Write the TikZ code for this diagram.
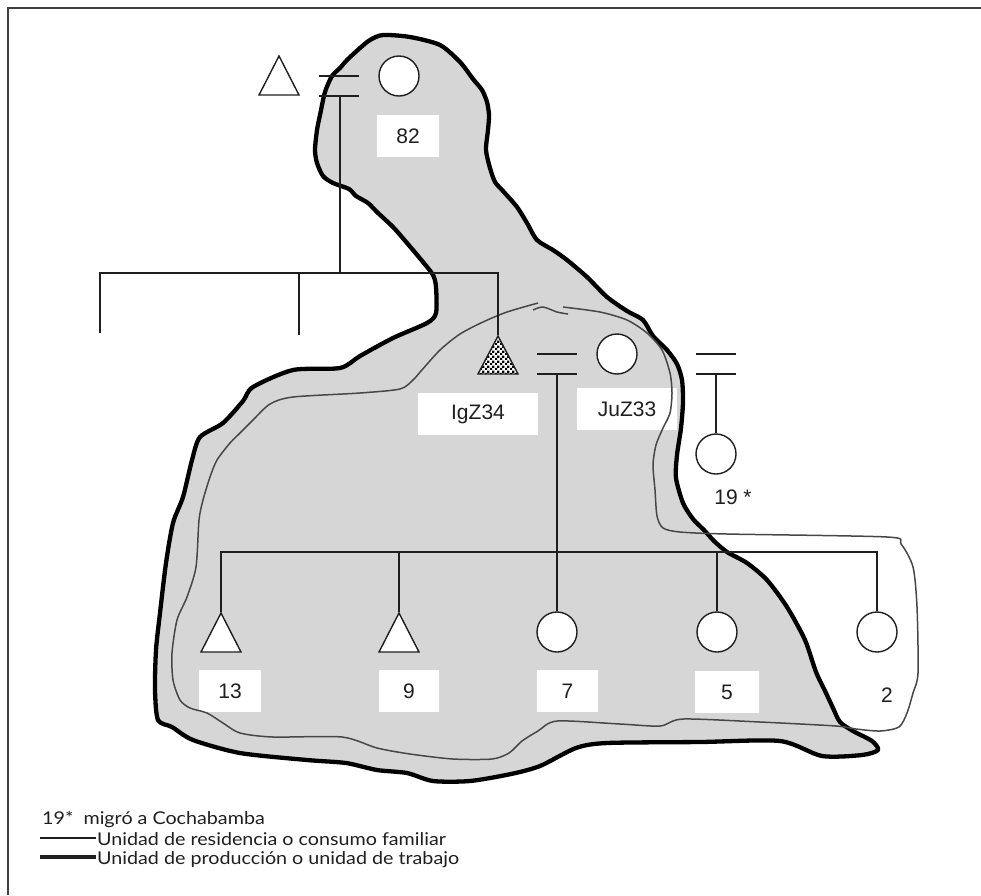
\documentclass[tikz,border=0pt]{standalone}
\usepackage{fontspec}
\setmainfont{Liberation Sans}
\newfontfamily\legendfont[FakeStretch=1.12]{Lato}
\usetikzlibrary{patterns}
\pgfdeclarepatternformonly{finecheck}{\pgfpointorigin}{\pgfpoint{5pt}{5pt}}{\pgfpoint{5pt}{5pt}}{%
  \pgfpathrectangle{\pgfpointorigin}{\pgfpoint{2.5pt}{2.5pt}}%
  \pgfpathrectangle{\pgfpoint{2.5pt}{2.5pt}}{\pgfpoint{2.5pt}{2.5pt}}%
  \pgfusepath{fill}}
\definecolor{shade}{gray}{0.84}
\definecolor{ink}{gray}{0.12}
\definecolor{thinink}{gray}{0.28}
\newcommand\tripath{([yshift=-1pt]path picture bounding box.north) -- ([xshift=1pt,yshift=1pt]path picture bounding box.south west) -- ([xshift=-1pt,yshift=1pt]path picture bounding box.south east) -- cycle}
\begin{document}
\begin{tikzpicture}[x=1pt,y=-1pt,
  pedline/.style={draw=ink, line width=1.4pt},
  thickline/.style={draw=black, line width=4.3pt, line join=round},
  thinline/.style={draw=thinink, line width=1.5pt, line join=round},
  person/.style={circle, draw=ink, line width=1.4pt, fill=white, minimum size=40pt, inner sep=0pt},
  tri/.style={minimum width=42pt, minimum height=41pt, inner sep=0pt,
    path picture={\draw[pedline, fill=white] \tripath;}},
  chktri/.style={minimum width=42pt, minimum height=40pt, inner sep=0pt,
    path picture={\fill[white] \tripath; \fill[pattern=finecheck, pattern color=black] \tripath; \draw[pedline] \tripath;}},
  labelbox/.style={fill=white, inner sep=0pt, text=ink, font=\fontsize{21}{24}\selectfont},
  plainlabel/.style={inner sep=0pt, text=ink, font=\fontsize{21}{24}\selectfont},
  legendtext/.style={inner sep=0pt, anchor=base west, text=ink, font=\legendfont\fontsize{17.6}{19}\selectfont}
]
\useasboundingbox (0,0) rectangle (981,895);
% frame
\draw[draw=ink!85, line width=2pt] (981,8) -- (8,8) -- (8,895);

% production unit (thick outline, grey fill)
\filldraw[thickline, fill=shade] plot[smooth cycle, tension=0.45] coordinates {
(383,35) (410,37) (440,45) (460,62) (473,79) (482,90) (487,102) (489,115) (488,130) (486,150) (490,168) (495,182) (503,191) (517,207) (527,223) (537,240) (553,250) (567,260) (587,277) (607,297) (627,311) (643,320) (653,336) (667,350) (677,364) (682,380) (683,402) (681,428) (677,455) (676,478) (683,503) (693,519) (704,530) (714,541) (727,552) (747,563) (767,580) (787,607) (805,640) (816,672) (826,693) (833,708) (840,722) (853,731) (872,741) (878,750) (862,755) (822,756) (780,741) (700,742) (607,743) (576,748) (540,766) (511,774) (470,781) (433,781) (407,773) (377,770) (346,763) (307,760) (240,753) (193,740) (172,727) (158,720) (155,690) (156,650) (160,613) (166,563) (173,523) (183,497) (192,460) (200,437) (223,423) (243,401) (253,387) (293,370) (340,368) (360,356) (393,338) (427,323) (436,313) (436,287) (433,275) (423,262) (407,243) (393,227) (378,213) (368,203) (356,196) (349,189) (333,183) (323,176) (317,163) (315,150) (317,130) (320,115) (325,92) (332,76) (340,68) (347,60) (360,48) (370,40)};

% label boxes
\node[labelbox, minimum width=62pt, minimum height=42pt] (l82) at (408,136) {82};
\node[labelbox, minimum width=120pt, minimum height=42pt] (lIg) at (478,414) {IgZ34};
\node[labelbox, minimum width=100pt, minimum height=42pt] (lJu) at (627,409) {JuZ33};
\node[labelbox, minimum width=62pt, minimum height=42pt] (l13) at (230,691) {13};
\node[labelbox, minimum width=60pt, minimum height=42pt] (l9) at (409,691) {9};
\node[labelbox, minimum width=61pt, minimum height=42pt] (l7) at (567.5,691) {7};
\node[labelbox, minimum width=64pt, minimum height=42pt] (l5) at (727,692) {5};
\node[plainlabel] (l2) at (887,695) {2};
\node[plainlabel] (l19) at (733,497) {19 *};

% residence unit (thin outline)
\draw[thinline] plot[smooth, tension=0.45] coordinates {
(563,307) (600,312) (627,320) (647,333) (662,350) (670,373) (672,393) (670,413) (663,428) (656,445) (653,465) (655,490) (657,516) (663,528) (680,532) (727,534) (887,537) (901,544) (913,567) (917,607) (918,673) (913,693) (907,713) (899,727) (880,731) (856,729) (836,726) (760,722) (683,719) (660,726) (620,724) (557,721) (538,731) (522,741) (509,753) (492,759) (453,759) (410,754) (377,748) (342,737) (273,737) (240,733) (223,723) (207,713) (190,708) (180,700) (173,680) (172,653) (177,620) (187,597) (196,567) (199,520) (203,500) (210,477) (217,460) (230,443) (240,433) (253,420) (270,404) (293,397) (360,393) (400,389) (413,380) (421,371) (440,350) (460,334) (483,322) (507,312) (538,303)};
\draw[thinline] plot[smooth, tension=0.5] coordinates {(533,310) (543,307) (557,312) (568,314)};

% persons
\node[tri] (tA) at (279,75.5) {};
\node[person] (c82) at (399,76) {};
\node[chktri] (ck) at (498,355) {};
\node[person] (cJu) at (617,354) {};
\node[person] (c19) at (716,454) {};
\node[tri] (t13) at (221,632.5) {};
\node[tri] (t9) at (399,632.5) {};
\node[person] (c7) at (557,632) {};
\node[person] (c5) at (717,632) {};
\node[person] (c2) at (877,632) {};

% marriage 82
\coordinate (m1a) at (319,76); \coordinate (m1b) at (359,76);
\coordinate (m1c) at (319,96); \coordinate (m1d) at (359,96);
\coordinate (m1) at (340,96);
\draw[pedline] (m1a) -- (m1b);
\draw[pedline] (m1c) -- (m1d);
% sibling bar 1
\coordinate (b1L) at (100,273);
\coordinate (s1) at (100,333);
\coordinate (s2) at (299,335);
\draw[pedline] (m1) -- (m1 |- b1L);
\draw[pedline] (s1) -- (b1L) -- (ck.north |- b1L) -- (ck.north);
\draw[pedline] (s2) -- (s2 |- b1L);

% marriage IgZ34 - JuZ33
\coordinate (m2a) at (537,354); \coordinate (m2b) at (577,354);
\coordinate (m2c) at (537,374); \coordinate (m2d) at (577,374);
\coordinate (m2) at (557,374);
\draw[pedline] (m2a) -- (m2b);
\draw[pedline] (m2c) -- (m2d);
\draw[pedline] (m2) -- (c7.north);
% sibling bar 2
\coordinate (b2) at (557,552);
\draw[pedline] (t13.north) -- (t13.north |- b2) -- (c2.north |- b2) -- (c2.north);
\draw[pedline] (t9.north) -- (t9.north |- b2);
\draw[pedline] (c5.north) -- (c5.north |- b2);

% marriage 19*
\coordinate (m3a) at (696,354); \coordinate (m3b) at (736,354);
\coordinate (m3c) at (696,374); \coordinate (m3d) at (736,374);
\coordinate (m3) at (716,374);
\draw[pedline] (m3a) -- (m3b);
\draw[pedline] (m3c) -- (m3d);
\draw[pedline] (m3) -- (c19.north);

% legend
\node[legendtext] (lg1) at (42,824) {19*\ \ migró a Cochabamba};
\coordinate (lg2a) at (40,838); \coordinate (lg2b) at (96,838);
\draw[draw=ink, line width=1.3pt] (lg2a) -- (lg2b);
\node[legendtext] (lg2) at (97,845) {Unidad de residencia o consumo familiar};
\coordinate (lg3a) at (40,857); \coordinate (lg3b) at (96,857);
\draw[draw=ink, line width=4.5pt] (lg3a) -- (lg3b);
\node[legendtext] (lg3) at (97,864) {Unidad de producción o unidad de trabajo};
\end{tikzpicture}
\end{document}
